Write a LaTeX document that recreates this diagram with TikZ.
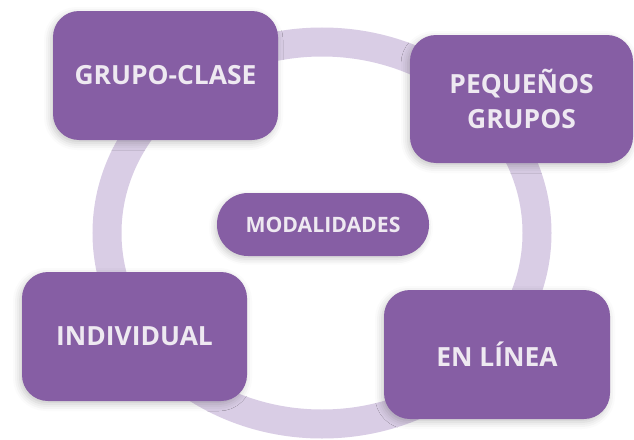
\documentclass[tikz,border=0pt]{standalone}
\usepackage{fontspec}
\setmainfont{Open Sans}
\usetikzlibrary{shadows.blur}
\definecolor{boxpurple}{HTML}{865EA4}
\definecolor{ringlilac}{HTML}{D9CDE5}
\definecolor{labeltext}{HTML}{EEE9F1}
\tikzset{
  modebox/.style={draw=none, fill=boxpurple, rounded corners=26pt,
    minimum width=225pt, minimum height=129pt, align=center,
    text=labeltext, font=\fontsize{26.4}{35}\selectfont\bfseries,
    blur shadow={shadow xshift=-2pt, shadow yshift=-3pt, shadow blur radius=7pt, shadow opacity=22}},
  centerbox/.style={draw=none, fill=boxpurple, rounded corners=31pt,
    minimum width=212pt, minimum height=63pt, align=center,
    text=labeltext, font=\fontsize{21.2}{24}\selectfont\bfseries,
    blur shadow={shadow xshift=-2pt, shadow yshift=-3pt, shadow blur radius=6pt, shadow opacity=20}},
  ring/.style={draw=ringlilac, line width=29pt}
}
\begin{document}
\begin{tikzpicture}[x=1pt,y=-1pt]
\useasboundingbox (0,0) rectangle (634,439);
\draw[ring] (322,233) ellipse [x radius=215, y radius=191];
\node[modebox] (grupo) at (165.5,75.5) {GRUPO-CLASE};
\node[modebox, minimum width=223pt, minimum height=128pt] (pequenos) at (521.5,99) {PEQUEÑOS\\GRUPOS};
\node[centerbox] (modalidades) at (323,224.5) {MODALIDADES};
\node[modebox] (individual) at (134.5,336.5) {INDIVIDUAL};
\node[modebox, minimum width=226pt] (enlinea) at (497,354.5) {EN LÍNEA};
\end{tikzpicture}
\end{document}
